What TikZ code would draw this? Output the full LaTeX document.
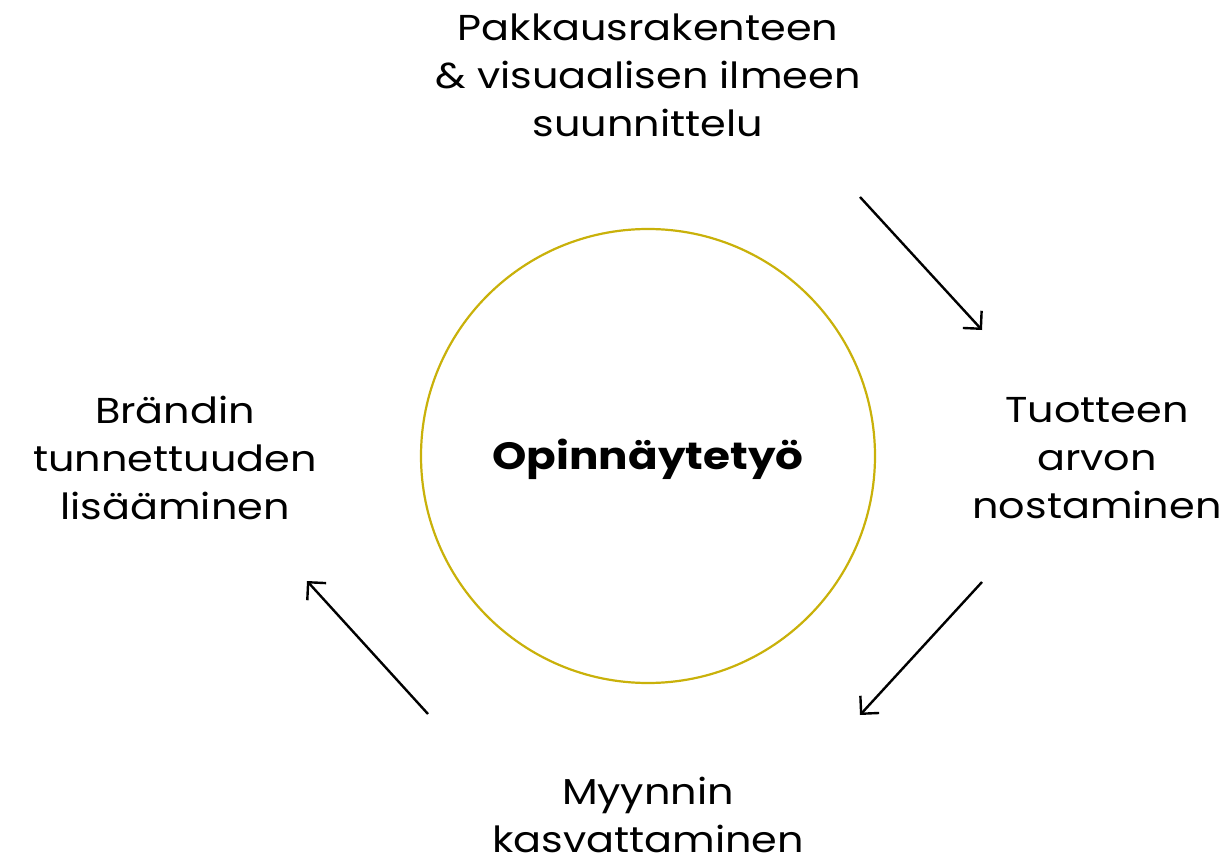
\documentclass[tikz,border=0pt]{standalone}
\usepackage{fontspec}
\usepackage{xcolor}
\usetikzlibrary{arrows.meta}
\setmainfont[FakeStretch=1.15]{Poppins}
\definecolor{mygold}{HTML}{C9B10A}

\begin{document}
\begin{tikzpicture}[x=1pt,y=-1pt,
  step label/.style={align=center,font=\fontsize{36}{48}\selectfont,inner sep=0pt},
  arr/.style={-{Straight Barb[length=9pt,angle=90:18pt]},line width=2.4pt,color=black}]
\useasboundingbox (0,0) rectangle (1229,861);
\node[draw=mygold,line width=2.2pt,circle,minimum size=454pt,inner sep=0pt] (C) at (648,456) {};
\node[font=\fontsize{38}{40}\selectfont\bfseries] (T) at (648,459) {Opinnäytetyö};
\node[step label] (P) at (648,75)   {Pakkausrakenteen\\\& visuaalisen ilmeen\\suunnittelu};
\node[step label] (A) at (1097,458) {Tuotteen\\arvon\\nostaminen};
\node[step label] (M) at (648,815)  {Myynnin\\kasvattaminen};
\node[step label] (B) at (175,458)  {Brändin\\tunnettuuden\\lisääminen};
\coordinate (a1) at (860,197);  \coordinate (b1) at (982,330);
\coordinate (a2) at (982,582);  \coordinate (b2) at (860,715);
\coordinate (a3) at (428,714);  \coordinate (b3) at (307,581);
\draw[arr] (a1)--(b1); \draw[arr] (a2)--(b2); \draw[arr] (a3)--(b3);
\end{tikzpicture}
\end{document}
